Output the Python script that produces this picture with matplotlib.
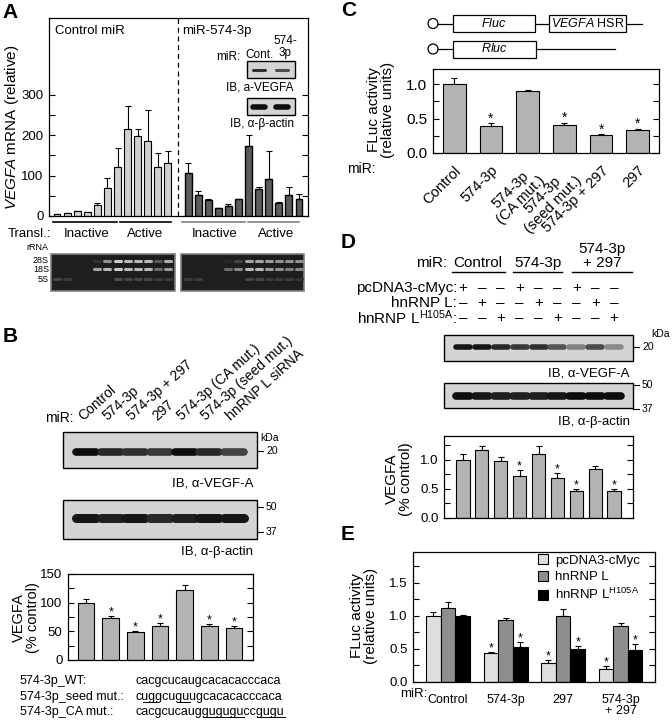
import numpy as np
import matplotlib
matplotlib.use("Agg")
import matplotlib.pyplot as plt
from matplotlib.patches import Rectangle, Circle, Patch
from matplotlib.ticker import FormatStrFormatter
from matplotlib.font_manager import FontProperties

plt.rcParams['font.family'] = ['Liberation Sans', 'DejaVu Sans']
plt.rcParams['mathtext.fontset'] = 'custom'
plt.rcParams['mathtext.rm'] = 'Liberation Sans'
plt.rcParams['mathtext.it'] = 'Liberation Sans:italic'
plt.rcParams['mathtext.bf'] = 'Liberation Sans:bold'

# ---------------- data ----------------
# A: polysome profile, VEGFA mRNA
a_ctrl = [4, 8, 13, 11, 28, 69, 121, 216, 198, 185, 121, 132]
a_ctrl_sem = [0, 0, 0, 0, 3, 26, 48, 56, 17, 77, 36, 29]
a_mir = [106, 52, 40, 20, 25, 42, 174, 67, 91, 31, 53, 42]
a_mir_sem = [25, 10, 1, 0, 4, 0, 27, 4, 69, 4, 20, 12]
# rRNA gel band intensities (28S, 18S, 5S) per fraction
gel_ctrl = [[0, 0, 0, 0, 0.1, 0.6, 0.9, 0.8, 0.8, 0.8, 0.3, 0.75],
            [0, 0, 0, 0, 0.7, 0.8, 0.9, 0.8, 0.8, 0.8, 0.4, 0.65],
            [0.2, 0.15, 0, 0, 0, 0, 0.25, 0.2, 0.2, 0.2, 0.15, 0.15]]
gel_mir = [[0, 0, 0, 0, 0.05, 0.2, 0.7, 0.7, 0.65, 0.6, 0.6, 0.6],
           [0, 0, 0, 0, 0.4, 0.55, 0.8, 0.8, 0.65, 0.6, 0.5, 0.55],
           [0.15, 0.15, 0, 0, 0, 0, 0.2, 0.2, 0.15, 0.15, 0.15, 0.1]]
gel_rows = ['28S', '18S', '5S']
inset_vegf = [0.8, 0.65]
inset_actin = [1.0, 1.0]

# B: western blot quantification
b_labels = ['Control', '574-3p', '574-3p + 297', '297', '574-3p (CA mut.)',
            '574-3p (seed mut.)', 'hnRNP L siRNA']
b_vals = [99, 73, 49, 59, 122, 59, 55]
b_sem = [7, 4, 2, 5, 9, 3, 4]
b_sig = [0, 1, 1, 1, 0, 1, 1]
b_vegf = [1.0, 0.85, 0.8, 0.75, 1.0, 0.85, 0.7]
b_actin = [0.95, 0.9, 0.95, 0.85, 0.9, 0.95, 0.95]
seq_names = ['574-3p_WT:', '574-3p_seed mut.:', '574-3p_CA mut.:']
seqs = ['cacgcucaugcacacacccaca', 'cuggcuguugcacacacccaca', 'cacgcucaugguguguccgugu']
seq_underline = [[], [(1, 3), (6, 8)], [(10, 16), (18, 22)]]

# C: luciferase reporter
c_labels = ['Control', '574-3p', '574-3p\n(CA mut.)', '574-3p\n(seed mut.)', '574-3p + 297', '297']
c_vals = [1.0, 0.385, 0.90, 0.41, 0.265, 0.34]
c_sem = [0.085, 0.045, 0.02, 0.03, 0.01, 0.01]
c_sig = [0, 1, 0, 1, 1, 1]

# D: hnRNP L overexpression, VEGFA protein
d_groups = ['Control', '574-3p', '574-3p\n+ 297']
d_rows = ['pcDNA3-cMyc:', 'hnRNP L:', 'hnRNP L$^{\\mathrm{H105A}}$:']
d_signs = [['+', '–', '–'] * 3, ['–', '+', '–'] * 3, ['–', '–', '+'] * 3]
d_vals = [1.0, 1.17, 0.98, 0.72, 1.10, 0.68, 0.46, 0.84, 0.46]
d_sem = [0.10, 0.07, 0.07, 0.11, 0.13, 0.09, 0.04, 0.06, 0.04]
d_sig = [0, 0, 0, 1, 0, 1, 1, 0, 1]
d_vegf = [0.95, 0.95, 0.85, 0.75, 0.8, 0.6, 0.35, 0.65, 0.3]
d_actin = [1.0, 0.95, 0.9, 0.9, 0.9, 0.95, 1.0, 1.0, 1.0]

# E: luciferase with hnRNP L
e_groups = ['Control', '574-3p', '297', '574-3p\n+ 297']
e_series = ['pcDNA3-cMyc', 'hnRNP L', 'hnRNP L$^{\\mathrm{H105A}}$']
e_vals = [[1.0, 0.43, 0.29, 0.19], [1.12, 0.93, 1.0, 0.85], [1.0, 0.525, 0.495, 0.48]]
e_sem = [[0.05, 0.02, 0.045, 0.055], [0.09, 0.035, 0.10, 0.035], [0.015, 0.075, 0.05, 0.09]]
e_sig = [[0, 1, 1, 1], [0, 0, 0, 0], [0, 1, 1, 1]]
e_colors = ['#dedede', '#8e8e8e', '#000000']

# ---------------- figure ----------------
W, H = 672, 722
fig = plt.figure(figsize=(W / 100, H / 100), dpi=100)


def px_axes(l, t, r, b):
    return fig.add_axes([l / W, 1 - b / H, (r - l) / W, (b - t) / H])


ov = fig.add_axes([0, 0, 1, 1], zorder=10)
ov.set_xlim(0, W)
ov.set_ylim(H, 0)
ov.axis('off')


def T(x, y, s, **kw):
    kw.setdefault('va', 'center')
    kw.setdefault('fontsize', 9)
    return ov.text(x, y, s, **kw)


def style(ax, ylim, major, minor, fs, fmt=None):
    ax.set_ylim(*ylim)
    ax.set_yticks(major)
    ax.set_yticks(minor, minor=True)
    if fmt:
        ax.yaxis.set_major_formatter(FormatStrFormatter(fmt))
    ax.tick_params(axis='y', which='both', direction='in', left=True, right=True,
                   length=4, width=0.8, labelsize=fs, pad=4)
    ax.tick_params(axis='x', which='both', bottom=False, labelbottom=False)
    for s in ax.spines.values():
        s.set_linewidth(0.9)


def bars(ax, x, vals, sem, color, width, sig=None, lw=0.8, star_fs=9):
    ax.bar(x, vals, width, color=color, edgecolor='k', linewidth=lw, zorder=2)
    ax.errorbar(x, vals, yerr=[np.zeros(len(vals)), sem], fmt='none', ecolor='k',
                elinewidth=0.8, capsize=2.5, capthick=0.8, zorder=1)
    if sig:
        for xi, v, s, g in zip(x, vals, sem, sig):
            if g:
                ax.annotate('*', (xi, v + s), xytext=(0, 0.5), textcoords='offset points',
                            ha='center', va='baseline', fontsize=star_fs)


def lane_px(ax, xs):
    return [ax.transData.transform((xi, 0))[0] for xi in xs]


def blot(box, lanes, y, vals, half, thick):
    l, t, r, b = box
    ov.add_patch(Rectangle((l, t), r - l, b - t, facecolor='#d4d4d4', edgecolor='k', lw=1.0))
    for cx, v in zip(lanes, vals):
        g = 0.75 - 0.7 * v
        ov.plot([cx - half, cx + half], [y, y], color=(g, g, g), lw=thick,
                solid_capstyle='round')


def gel(box, lanes, ys, rows):
    l, t, r, b = box
    ov.add_patch(Rectangle((l, t), r - l, b - t, facecolor='#1e1e1e', edgecolor='#808080', lw=1.2))
    for y, vals in zip(ys, rows):
        for cx, v in zip(lanes, vals):
            if v > 0:
                g = 0.12 + 0.75 * v
                ov.plot([cx - 3.0, cx + 3.0], [y, y], color=(g, g, g), lw=2.2,
                        solid_capstyle='round')


# ======== Panel A ========
axA = px_axes(49, 18, 308, 216)
xa1 = np.arange(12)
xa2 = np.arange(13, 25)
bars(axA, xa1, a_ctrl, a_ctrl_sem, '#cfcfcf', 0.68)
bars(axA, xa2, a_mir, a_mir_sem, '#5c5c5c', 0.68, lw=1.0)
axA.axvline(12, color='k', lw=0.9, ls=(0, (4, 3)))
axA.set_xlim(-0.8, 24.9)
style(axA, (0, 490), [0, 100, 200, 300], [50, 150, 250], 9.5)

T(2, 12, 'A', fontsize=15, fontweight='bold')
T(12, 127, r'$\mathit{VEGFA}$ mRNA (relative)', rotation=90, ha='center', fontsize=11)
T(55, 31, 'Control miR', fontsize=9.5)
T(182, 31, 'miR-574-3p', fontsize=9.5)
T(285, 47, '574-\n3p', ha='center', fontsize=8.5, linespacing=1.0)
T(260, 55, 'Cont.', ha='center', fontsize=8.5)
T(240, 57, 'miR:', ha='right', fontsize=8.5)
ins_lanes = [259, 282]
blot((247, 61, 295, 78), ins_lanes, 69.5, inset_vegf, 6, 2.2)
T(294, 88, 'IB, a-VEGFA', ha='right', fontsize=8.5)
blot((247, 98, 295, 115), ins_lanes, 106.5, inset_actin, 6, 4.0)
T(294, 124, 'IB, α-β-actin', ha='right', fontsize=8.5)

for (x0, x1), c in zip([(53, 117), (120, 171), (182, 245), (248, 299)],
                       ['k', 'k', '#808080', '#808080']):
    ov.plot([x0, x1], [221.7, 221.7], color=c, lw=1.2)
T(8, 234, 'Transl.:', fontsize=9.5)
for x, s in zip([87, 145, 215, 276], ['Inactive', 'Active', 'Inactive', 'Active']):
    T(x, 234, s, ha='center', fontsize=9.5)

gel_ys = [260.7, 269.3, 279]
gel((51, 254, 175, 291), lane_px(axA, xa1), gel_ys, gel_ctrl)
gel((181, 254, 304, 291), lane_px(axA, xa2), gel_ys, gel_mir)
T(48, 248, 'rRNA', ha='right', fontsize=6.5)
for y, s in zip(gel_ys, gel_rows):
    T(49, y, s, ha='right', fontsize=6.5)

# ======== Panel B ========
axB = px_axes(68, 574, 253, 660)
xb = np.arange(len(b_vals))
bars(axB, xb, b_vals, b_sem, '#b3b3b3', 0.67, sig=b_sig)
axB.set_xlim(-0.73, 6.77)
style(axB, (0, 150), [0, 50, 100, 150], [25, 75, 125], 9.5)

T(3, 336, 'B', fontsize=15, fontweight='bold')
T(45, 418, 'miR:', fontsize=10)
lb = lane_px(axB, xb)
for cx, s in zip(lb, b_labels):
    T(cx - 3, 421, s, rotation=42, ha='left', va='baseline', rotation_mode='anchor', fontsize=10)
blot((63, 432, 257, 468), lb, 452, b_vegf, 10, 5.5)
T(260, 438, 'kDa', fontsize=7.5)
ov.plot([257, 263], [451, 451], color='k', lw=0.8)
T(266, 451, '20', fontsize=7.5)
T(253, 484, 'IB, α-VEGF-A', ha='right', fontsize=9.5)
blot((63, 500, 257, 539), lb, 518, b_actin, 10, 6.5)
ov.plot([257, 263], [507, 507], color='k', lw=0.8)
T(266, 507, '50', fontsize=7.5)
ov.plot([257, 263], [532, 532], color='k', lw=0.8)
T(266, 532, '37', fontsize=7.5)
T(253, 552, 'IB, α-β-actin', ha='right', fontsize=9.5)
T(26, 618, 'VEGFA\n(% control)', rotation=90, ha='center', fontsize=10.5, linespacing=1.0)

# sequences with underlined mutations
seq_y = [684, 700, 715]
seq_fp = FontProperties(family=['Liberation Sans', 'DejaVu Sans'], size=9)
fig.canvas.draw()
rend = fig.canvas.get_renderer()
for y, nm, sq, runs in zip(seq_y, seq_names, seqs, seq_underline):
    T(20, y, nm, va='baseline', fontproperties=seq_fp)
    sx = 136
    T(sx, y, sq, va='baseline', fontproperties=seq_fp)
    for a, b in runs:
        w0 = rend.get_text_width_height_descent(sq[:a], seq_fp, ismath=False)[0] if a else 0
        w1 = rend.get_text_width_height_descent(sq[:b], seq_fp, ismath=False)[0]
        ov.plot([sx + w0 + 0.5, sx + w1], [y + 2, y + 2], color='k', lw=0.7)

# ======== Panel C ========
axC = px_axes(433, 69, 659, 153)
xc = np.arange(len(c_vals))
bars(axC, xc, c_vals, c_sem, '#b3b3b3', 0.62, sig=c_sig, star_fs=10)
axC.set_xlim(-0.58, 5.58)
style(axC, (0, 1.22), [0, 0.5, 1.0], [0.25, 0.75], 11, fmt='%.1f')
axC.tick_params(axis='x', labelbottom=True, pad=4, labelsize=10.5)
axC.set_xticks(xc)
for t in axC.set_xticklabels(c_labels, rotation=45, ha='right', rotation_mode='anchor'):
    t.set_multialignment('center')
    t.set_linespacing(1.0)

T(341, 10, 'C', fontsize=15, fontweight='bold')
T(361, 169, 'miR:', ha='center', fontsize=10)
T(381, 110, 'FLuc activity\n(relative units)', rotation=90, ha='center', fontsize=11, linespacing=1.0)
# reporter schematic
for cy, boxes, end in [(23.5, [(453, 535, r'$\mathit{Fluc}$'), (549, 626, r'$\mathit{VEGFA}$ HSR')], 642),
                       (49, [(453, 536, r'$\mathit{Rluc}$')], 615)]:
    ov.add_patch(Circle((433, cy), 5, facecolor='white', edgecolor='k', lw=0.9))
    ov.plot([438, end], [cy, cy], color='k', lw=0.9, zorder=1)
    for x0, x1, s in boxes:
        ov.add_patch(Rectangle((x0, cy - 8.5), x1 - x0, 17, facecolor='white', edgecolor='k', lw=0.9, zorder=2))
        T((x0 + x1) / 2, cy, s, ha='center', fontsize=9, zorder=3)

# ======== Panel D ========
axD = px_axes(444, 436, 633, 518)
xd = np.arange(len(d_vals))
bars(axD, xd, d_vals, d_sem, '#b3b3b3', 0.7, sig=d_sig)
axD.set_xlim(-1, 9)
style(axD, (0, 1.41), [0, 0.5, 1.0], [0.25, 0.75, 1.25], 9.5, fmt='%.1f')

T(341, 242, 'D', fontsize=15, fontweight='bold')
T(447, 263, 'miR:', ha='right', fontsize=11)
for cx, (x0, x1), s in zip([478, 538, 602], [(452, 505), (513, 562), (572, 632)], d_groups):
    T(cx, 256 if '\n' in s else 263, s, ha='center', fontsize=11, linespacing=0.95)
    ov.plot([x0, x1], [272, 272], color='k', lw=1.0)
ld = lane_px(axD, xd)
for y, row, sg in zip([288, 303, 318], d_rows, d_signs):
    T(457, y, row, ha='right', fontsize=11)
    for cx, s in zip(ld, sg):
        T(cx, y, s, ha='center', fontsize=11)
blot((444, 335, 633, 361), ld, 347, d_vegf, 7, 4.0)
T(651, 334, 'kDa', fontsize=7.5)
ov.plot([633, 639], [347, 347], color='k', lw=0.8)
T(642, 347, '20', fontsize=7.5)
T(630, 373, 'IB, α-VEGF-A', ha='right', fontsize=9.5)
blot((444, 383, 633, 408), ld, 396, d_actin, 7, 5.5)
ov.plot([633, 639], [385, 385], color='k', lw=0.8)
T(642, 385, '50', fontsize=7.5)
ov.plot([633, 639], [409, 409], color='k', lw=0.8)
T(642, 409, '37', fontsize=7.5)
T(630, 422, 'IB, α-β-actin', ha='right', fontsize=9.5)
T(399, 479, 'VEGFA\n(% control)', rotation=90, ha='center', fontsize=11, linespacing=1.0)

# ======== Panel E ========
axE = px_axes(413, 552, 655, 682)
xe = np.arange(len(e_groups))
bw = 0.255
for k in range(3):
    bars(axE, xe + (k - 1) * bw, e_vals[k], e_sem[k], e_colors[k], bw, sig=e_sig[k])
axE.set_xlim(-0.61, 3.6)
style(axE, (0, 1.96), [0, 0.5, 1.0, 1.5], [0.25, 0.75, 1.25, 1.75], 9.5, fmt='%.1f')
axE.set_xticks(xe)
axE.set_xticklabels(e_groups, fontsize=9, linespacing=0.95)
for t in axE.get_xticklabels():
    t.set_x(t.get_position()[0])
axE.tick_params(axis='x', labelbottom=True, pad=5)
handles = [Patch(facecolor=c, edgecolor='k', lw=0.8) for c in e_colors]
axE.legend(handles, e_series, loc='upper left', bbox_to_anchor=(0.515, 0.985), frameon=False,
           fontsize=9.5, borderpad=0, borderaxespad=0, handlelength=0.8, handleheight=0.8,
           labelspacing=0.3, handletextpad=0.5)

T(341, 535, 'E', fontsize=15, fontweight='bold')
T(427, 694, 'miR:', ha='right', fontsize=9.5)
T(364, 616, 'FLuc activity\n(relative units)', rotation=90, ha='center', fontsize=11, linespacing=1.0)

fig.savefig('out.png', dpi=100)
